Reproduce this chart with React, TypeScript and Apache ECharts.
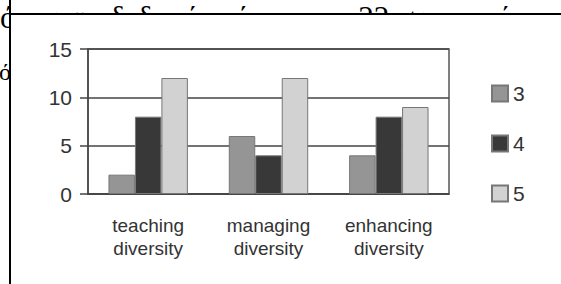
import React, { useEffect, useRef } from "react";
import * as echarts from "echarts";

const categories = ["teaching\ndiversity", "managing\ndiversity", "enhancing\ndiversity"];
const seriesNames = ["3", "4", "5"];
const values3 = [2, 6, 4];
const values4 = [8, 4, 8];
const values5 = [12, 12, 9];
const yTicks = [0, 5, 10, 15];

const FONT = "'Liberation Sans', Arial, sans-serif";
const colors = ["#959595", "#383838", "#d2d2d2"];

export default function App() {
  const ref = useRef<HTMLDivElement>(null);
  useEffect(() => {
    if (!ref.current) return;
    const chart = echarts.init(ref.current, undefined, { renderer: "svg" });
    const seriesData = [values3, values4, values5];
    chart.setOption({
      animation: false,
      backgroundColor: "#ffffff",
      grid: {
        left: 88,
        right: 112,
        top: 49,
        bottom: 90,
        show: true,
        borderColor: "#555",
        borderWidth: 1.5,
        backgroundColor: "transparent",
      },
      legend: {
        orient: "vertical",
        left: 491,
        top: 83,
        padding: 0,
        itemWidth: 16,
        itemHeight: 16,
        itemGap: 29,
        data: seriesNames,
        textStyle: { fontFamily: FONT, fontSize: 21, color: "#333" },
        icon: "rect",
      },
      xAxis: {
        type: "category",
        data: categories,
        axisLine: { show: true, lineStyle: { color: "#444", width: 1.5 } },
        axisTick: { show: false },
        axisLabel: {
          interval: 0,
          fontFamily: FONT,
          fontSize: 19,
          lineHeight: 23,
          color: "#333",
          margin: 20,
        },
      },
      yAxis: {
        type: "value",
        min: yTicks[0],
        max: yTicks[yTicks.length - 1],
        interval: 5,
        axisLine: { show: true, lineStyle: { color: "#444", width: 1.5 } },
        axisTick: { show: true, length: 8, lineStyle: { color: "#444", width: 1.5 } },
        splitLine: { show: true, lineStyle: { color: "#444", width: 1.5 } },
        axisLabel: { fontFamily: FONT, fontSize: 21, color: "#333", margin: 16 },
      },
      series: seriesNames.map((name, i) => ({
        name,
        type: "bar",
        data: seriesData[i],
        barGap: "0%",
        barCategoryGap: "34%",
        itemStyle: { color: colors[i], borderColor: "#777", borderWidth: 1 },
      })),
      graphic: [
        {
          type: "text",
          x: 0,
          y: 2,
          z: -3,
          style: {
            text: "όπου ως δεδομένο ότι και οι 22 συμμετείχαν",
            font: "31px 'Liberation Serif', serif",
            fill: "#000",
            verticalAlign: "top",
          },
        },
        {
          type: "text",
          x: -1,
          y: 60,
          z: -3,
          style: {
            text: "ό",
            font: "24px 'Liberation Serif', serif",
            fill: "#000",
            verticalAlign: "top",
          },
        },
        {
          type: "rect",
          z: -2,
          shape: { x: 10, y: 14, width: 551, height: 270 },
          style: { fill: "#fff" },
          silent: true,
        },
        {
          type: "line",
          z: -1,
          shape: { x1: 10, y1: 0, x2: 10, y2: 284 },
          style: { stroke: "#000", lineWidth: 2 },
        },
        {
          type: "line",
          z: -1,
          shape: { x1: 10, y1: 14, x2: 561, y2: 14 },
          style: { stroke: "#000", lineWidth: 2 },
        },
      ],
    });
    return () => chart.dispose();
  }, []);
  return (
    <div
      ref={ref}
      style={{ position: "absolute", left: 0, top: 0, width: 561, height: 284 }}
    />
  );
}
